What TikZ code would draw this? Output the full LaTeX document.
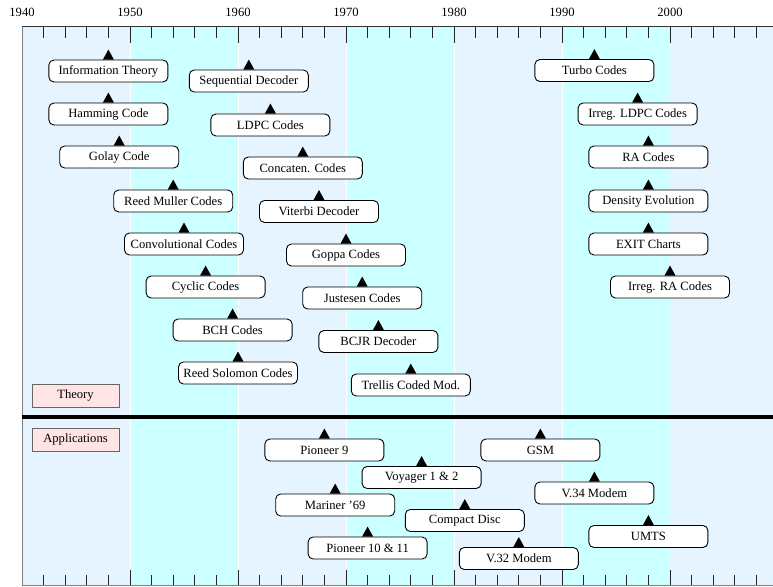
\documentclass[tikz,border=0pt]{standalone}
\usepackage{fontspec}
\setmainfont{Liberation Serif}
\usepackage{tikz}
\usetikzlibrary{calc}
\definecolor{bandblue}{HTML}{E6F4FF}
\definecolor{bandcyan}{HTML}{CCFFFF}
\definecolor{partpink}{HTML}{FFE4E6}
\newcommand{\yr}[1]{{22+10.8*(#1-1940)}}

\tikzset{
  event/.style={draw, fill=white, rounded corners=5pt, line width=0.9pt,
    minimum width=119pt, minimum height=22pt, inner sep=0pt,
    font=\fontsize{12.6}{14}\selectfont},
  part/.style={draw=black!60, fill=partpink, line width=0.8pt,
    minimum width=87pt, minimum height=23pt, inner sep=0pt,
    font=\fontsize{12.6}{14}\selectfont},
  yearlabel/.style={font=\fontsize{12.6}{14}\selectfont, inner sep=0pt}
}

\begin{document}
\begin{tikzpicture}[x=1pt, y=-1pt]
  \useasboundingbox (0,0) rectangle (773,586);

  % decades
  \foreach \d/\col in {0/bandblue,1/bandcyan,2/bandblue,3/bandcyan,4/bandblue,5/bandcyan,6/bandblue}
    \fill[\col] ({22+108*\d},27) rectangle ({min(22+108*(\d+1),773)},586);
  \foreach \d in {1,...,5}
    \draw[white, line width=1pt] ({22+108*\d},27) -- ({22+108*\d},586);

  \foreach \d [evaluate=\d as \yy using int(1940+10*\d)] in {0,...,6}
    \node[yearlabel] (year\yy) at ({22+108*\d},12) {\yy};

  % ticks every 2 years
  \foreach \i [evaluate=\i as \len using {mod(\i,5)==0 ? 16 : 11}] in {1,...,34} {
    \draw[black!85, line width=0.8pt] ({22+21.6*\i},27) -- ++(0,\len);
    \draw[black!85, line width=0.8pt] ({22+21.6*\i},586) -- ++(0,-\len);
  }

  \draw[black!50, line width=1pt] (22,586) -- (22,27);
  \draw[black!80, line width=1pt] (22,27) -- (773,27);
  \draw[black!50, line width=1pt] (22,585.5) -- (773,585.5);

  \draw[line width=4pt] (22,417) -- (773,417);

  \node[part] (theory) at (75.5,395.5) {Theory};
  \node[part] (apps) at (75.5,439.5) {Applications};

  % theory
  \node[event] (info) at (\yr{1948}, 71) {Information Theory};
  \node[event] (hamming) at (\yr{1948}, 114) {Hamming Code};
  \node[event] (golay) at (\yr{1949}, 157) {Golay Code};
  \node[event] (reedmuller) at (\yr{1954}, 201) {Reed Muller Codes};
  \node[event] (conv) at (\yr{1955}, 244) {Convolutional Codes};
  \node[event] (cyclic) at (\yr{1957}, 287) {Cyclic Codes};
  \node[event] (bch) at (\yr{1959.5}, 330) {BCH Codes};
  \node[event] (rs) at (\yr{1960}, 373) {Reed Solomon Codes};

  \node[event] (seq) at (\yr{1961}, 81) {Sequential Decoder};
  \node[event] (ldpc) at (\yr{1963}, 125) {LDPC Codes};
  \node[event] (concat) at (\yr{1966}, 168) {Concaten. Codes};
  \node[event] (viterbi) at (\yr{1967.5}, 211.5) {Viterbi Decoder};
  \node[event] (goppa) at (\yr{1970}, 255) {Goppa Codes};
  \node[event] (justesen) at (\yr{1971.5}, 298) {Justesen Codes};
  \node[event] (bcjr) at (\yr{1973}, 341.5) {BCJR Decoder};
  \node[event] (tcm) at (\yr{1976}, 385) {Trellis Coded Mod.};

  \node[event] (turbo) at (\yr{1993}, 70.5) {Turbo Codes};
  \node[event] (irldpc) at (\yr{1997}, 114) {Irreg. LDPC Codes};
  \node[event] (ra) at (\yr{1998}, 157) {RA Codes};
  \node[event] (de) at (\yr{1998}, 201) {Density Evolution};
  \node[event] (exit) at (\yr{1998}, 244) {EXIT Charts};
  \node[event] (irra) at (\yr{2000}, 287) {Irreg. RA Codes};

  % applications
  \node[event] (pioneer9) at (\yr{1968}, 450) {Pioneer 9};
  \node[event] (voyager) at (\yr{1977}, 477.5) {Voyager 1 \& 2};
  \node[event] (mariner) at (\yr{1969}, 505) {Mariner '69};
  \node[event] (cd) at (\yr{1981}, 520.5) {Compact Disc};
  \node[event] (pioneer10) at (\yr{1972}, 548) {Pioneer 10 \& 11};
  \node[event] (v32) at (\yr{1986}, 558.5) {V.32 Modem};
  \node[event] (gsm) at (\yr{1988}, 450) {GSM};
  \node[event] (v34) at (\yr{1993}, 493) {V.34 Modem};
  \node[event] (umts) at (\yr{1998}, 536.5) {UMTS};

  % year markers
  \foreach \n in {info,hamming,golay,reedmuller,conv,cyclic,bch,rs,
                  seq,ldpc,concat,viterbi,goppa,justesen,bcjr,tcm,
                  turbo,irldpc,ra,de,exit,irra,
                  pioneer9,voyager,mariner,cd,pioneer10,v32,gsm,v34,umts}
    \fill (\n.north) +(-5.5,0) -- +(0,-10) -- +(5.5,0) -- cycle;
\end{tikzpicture}
\end{document}
